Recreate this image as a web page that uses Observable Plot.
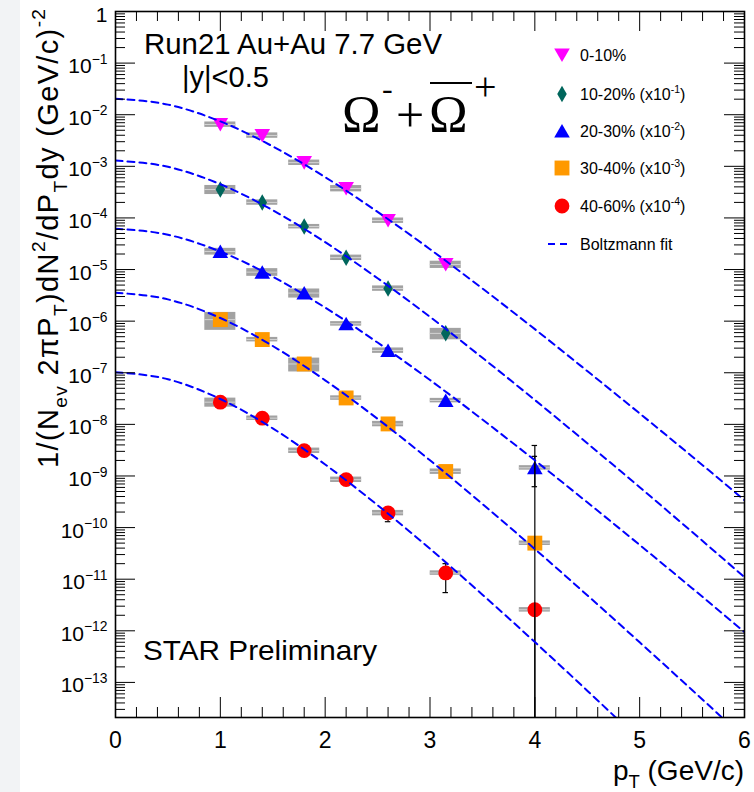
<!DOCTYPE html>
<html><head><meta charset="utf-8">
<script src="https://cdn.jsdelivr.net/npm/d3@7"></script>
<script src="https://cdn.jsdelivr.net/npm/@observablehq/plot@0.6"></script>
<style>
body{margin:0;background:#fff;}
#chart svg{display:block;}
</style>
</head><body><div id="chart"></div>
<script>
// ---- data ----
const pt = [1.0, 1.4, 1.8, 2.2, 2.6, 3.15, 4.0];
const seriesNames = ["0-10%", "10-20% (x10^{-1})", "20-30% (x10^{-2})", "30-40% (x10^{-3})", "40-60% (x10^{-4})"];
const seriesColors = ["#ff00ff", "#00665c", "#0000ff", "#ff9900", "#ff0000"];
const seriesSymbols = ["triangle", "diamond", "triangle", "square", "circle"];
const cent0_10  = [6.46e-3, 3.97e-3, 1.18e-3, 3.72e-4, 8.9e-5, 1.25e-5];
const cent10_20 = [3.55e-4, 2.0e-4, 6.8e-5, 1.7e-5, 4.3e-6, 5.8e-7];
const cent20_30 = [2.24e-5, 8.9e-6, 3.5e-6, 8.9e-7, 2.7e-7, 2.9e-8, 1.44e-9];
const cent30_40 = [1.07e-6, 4.4e-7, 1.48e-7, 3.25e-8, 1.02e-8, 1.22e-9, 5.0e-11];
const cent40_60 = [2.69e-8, 1.32e-8, 3.1e-9, 8.5e-10, 1.92e-10, 1.32e-11, 2.56e-12];
// systematic (relative) errors -> grey boxes
const sys0_10  = [0.12, 0.12, 0.12, 0.14, 0.12, 0.16];
const sys10_20 = [0.20, 0.12, 0.10, 0.12, 0.12, 0.25];
const sys20_30 = [0.15, 0.17, 0.20, 0.10, 0.12, 0.10, 0.10];
const sys30_40 = [0.38, 0.10, 0.30, 0.10, 0.12, 0.12, 0.10];
const sys40_60 = [0.20, 0.10, 0.12, 0.12, 0.12, 0.10, 0.10];
// visible error bars (the first two are drawn over the markers)
const errPt = [4.0, 4.0, 3.15, 2.6, 4.0];
const errLo = [1e-16, 6.2e-10, 5.5e-12, 1.3e-10, 1e-16];
const errHi = [3.9e-9, 2.4e-9, 2.0e-11, 2.4e-10, 3.0e-12];
const errOnTop = [true, true, false, false, false];
// Boltzmann fit curves
const fitPt = [0, 0.5, 1, 1.5, 2, 2.5, 3, 3.5, 4, 4.5, 5, 5.5, 6];
const fit0_10  = [2.04e-2, 1.57e-2, 7.43e-3, 2.43e-3, 6.17e-4, 1.31e-4, 2.48e-5, 4.29e-6, 7.0e-7, 1.08e-7, 1.63e-8, 2.39e-9, 3.40e-10];
const fit10_20 = [1.29e-3, 9.77e-4, 4.50e-4, 1.41e-4, 3.39e-5, 6.78e-6, 1.21e-6, 1.95e-7, 2.97e-8, 4.31e-9, 6.04e-10, 8.24e-11, 1.09e-11];
const fit20_30 = [6.17e-5, 4.72e-5, 2.23e-5, 7.28e-6, 1.83e-6, 3.85e-7, 7.24e-8, 1.24e-8, 2.01e-9, 3.09e-10, 4.61e-11, 6.70e-12, 9.46e-13];
const fit30_40 = [3.55e-6, 2.64e-6, 1.15e-6, 3.30e-7, 7.14e-8, 1.28e-8, 2.01e-9, 2.87e-10, 3.85e-11, 4.88e-12, 5.98e-13, 7.13e-14, 8.24e-15];
const fit40_60 = [1.02e-7, 7.48e-8, 3.10e-8, 8.36e-9, 1.67e-9, 2.72e-10, 3.89e-11, 5.01e-12, 6.05e-13, 6.92e-14, 7.62e-15];
const xTickLabels = ["0", "1", "2", "3", "4", "5", "6"];
const yTickExponents = [0, -1, -2, -3, -4, -5, -6, -7, -8, -9, -10, -11, -12, -13];

// ---- build tables ----
const cents = [cent0_10, cent10_20, cent20_30, cent30_40, cent40_60];
const syss = [sys0_10, sys10_20, sys20_30, sys30_40, sys40_60];
const fits = [fit0_10, fit10_20, fit20_30, fit30_40, fit40_60];
const points = cents.flatMap((arr, s) => arr.map((v, j) => ({s, pt: pt[j], v, sys: syss[s][j]})));
const fitRows = fits.flatMap((arr, s) => arr.map((v, j) => ({s, pt: fitPt[j], v})));
const errRows = errPt.map((p, i) => ({pt: p, lo: errLo[i], hi: errHi[i], top: errOnTop[i]}));
const capRows = errRows.flatMap(e => [{pt: e.pt, v: e.lo, top: e.top}, {pt: e.pt, v: e.hi, top: e.top}]);

const W = 754, H = 792, mL = 115, mR = 10, mT = 11, mB = 75;
const iW = W - mL - mR, iH = H - mT - mB;
const yMin = 2.09e-14;
const xMajor = xTickLabels.map(Number);
const xMinor = d3.range(0, 6.001, 0.2).filter(v => Math.abs(v - Math.round(v)) > 1e-6);
const yMajor = yTickExponents.map(e => Math.pow(10, e));
const yMinor = [];
for (let e = 0; e >= -14; e--) for (let k = 2; k <= 9; k++) { const v = k * Math.pow(10, e - 1); if (v >= yMin && v <= 1) yMinor.push(v); }

const BW = 0.148; // half width of grey boxes (pT units)
const markerR = [5.8, 5.0, 5.8, 8.4, 7.4];
const markerRot = [180, 0, 0, 0, 0];
const markerDy = [-2, 0, 2, 0, 0];

const dotMarks = cents.map((arr, s) => Plot.dot(points.filter(d => d.s === s), {
  x: "pt", y: "v", symbol: seriesSymbols[s], r: markerR[s], fill: seriesColors[s], stroke: "none",
  rotate: markerRot[s], dy: markerDy[s]
}));
const errMarks = (top) => [
  Plot.ruleX(errRows.filter(d => d.top === top), {x: "pt", y1: "lo", y2: "hi", stroke: "#000", strokeWidth: 1.2, clip: true}),
  Plot.ruleY(capRows.filter(d => d.top === top), {y: "v", x1: d => d.pt - 0.026, x2: d => d.pt + 0.026, stroke: "#000", strokeWidth: 1.2, clip: true})
];

const chart = Plot.plot({
  width: W, height: H, marginLeft: mL, marginRight: mR, marginTop: mT, marginBottom: mB,
  style: {background: "transparent", fontFamily: "'Liberation Sans', Arial, sans-serif"},
  x: {domain: [0, 6], axis: null},
  y: {type: "log", domain: [yMin, 1], axis: null},
  marks: [
    Plot.rect(points, {x1: d => d.pt - BW, x2: d => d.pt + BW, y1: d => d.v * (1 - d.sys), y2: d => d.v * (1 + d.sys), fill: "#a2a2a2"}),
    Plot.ruleY(points, {y: "v", x1: d => d.pt - BW, x2: d => d.pt + BW, stroke: "#d4d4d4", strokeWidth: 1}),
    ...errMarks(false),
    ...dotMarks,
    ...errMarks(true),
    Plot.line(fitRows, {x: "pt", y: "v", z: "s", stroke: "#0000ff", strokeWidth: 2, strokeDasharray: "7,5", curve: "monotone-x", clip: true}),
    // ticks (inside frame, ROOT style)
    Plot.tickX(xMinor, {x: d => d, insetTop: iH - 10, stroke: "#000"}),
    Plot.tickX(xMajor, {x: d => d, insetTop: iH - 20, stroke: "#000"}),
    Plot.tickX(xMinor, {x: d => d, insetBottom: iH - 10, stroke: "#000"}),
    Plot.tickX(xMajor, {x: d => d, insetBottom: iH - 20, stroke: "#000"}),
    Plot.tickY(yMinor, {y: d => d, insetRight: iW - 10, stroke: "#000"}),
    Plot.tickY(yMajor, {y: d => d, insetRight: iW - 20, stroke: "#000"}),
    Plot.tickY(yMinor, {y: d => d, insetLeft: iW - 10, stroke: "#000"}),
    Plot.tickY(yMajor, {y: d => d, insetLeft: iW - 20, stroke: "#000"}),
    Plot.frame({stroke: "#000", strokeWidth: 1.6}),
    // tick labels
    Plot.text(xMajor, {x: d => d, frameAnchor: "bottom", dy: 30, lineAnchor: "bottom", text: (d, i) => xTickLabels[i], fontSize: 23, fill: "#000"}),
    Plot.text(yMajor, {y: d => d, frameAnchor: "left", dx: -8, dy: 10, lineAnchor: "bottom", textAnchor: "end", fontSize: 21, fill: "#000",
      text: (d, i) => yTickExponents[i] === 0 ? "1" : "10^{\u2212" + (-yTickExponents[i]) + "}"})
  ]
});
document.getElementById("chart").appendChild(chart);

// ---- annotations, legend, titles ----
const svg = d3.select(chart);
const ns = "http://www.w3.org/2000/svg";
svg.insert("rect", ":first-child").attr("x", 0).attr("y", 0).attr("width", 20).attr("height", H).attr("fill", "#f2f3f5");

function rich(el, supScale = 0.66) {
  const s = el.textContent;
  if (!/[\^_]\{/.test(s)) return;
  const fs = parseFloat(getComputedStyle(el).fontSize);
  while (el.firstChild) el.removeChild(el.firstChild);
  const re = /([\^_])\{([^}]*)\}|([^\^_]+)/g;
  let shift = 0, m;
  while ((m = re.exec(s))) {
    const t = document.createElementNS(ns, "tspan");
    let target = 0;
    if (m[1]) { t.setAttribute("font-size", fs * supScale); target = m[1] === "^" ? -0.45 * fs : 0.3 * fs; t.textContent = m[2]; }
    else t.textContent = m[3];
    t.setAttribute("dy", target - shift); shift = target;
    el.appendChild(t);
  }
}
// superscripts in the y tick labels
svg.selectAll("text").each(function() { rich(this); });

const g = svg.append("g").attr("font-family", "'Liberation Sans', Arial, sans-serif").attr("fill", "#000").attr("text-anchor", "start");
function txt(x, y, s, size, opts = {}) {
  const t = g.append("text").attr("x", x).attr("y", y).attr("font-size", size).text(s);
  for (const k in opts) t.attr(k, opts[k]);
  rich(t.node());
  return t;
}
txt(144, 54, "Run21 Au+Au 7.7 GeV", 29, {textLength: 298, lengthAdjust: "spacingAndGlyphs"});
txt(182, 87, "|y|<0.5", 29);
txt(143, 660, "STAR Preliminary", 28, {textLength: 234, lengthAdjust: "spacingAndGlyphs"});

// Omega label
const serif = "'Liberation Serif', 'DejaVu Serif', serif";
txt(342, 132, "\u03A9", 52, {"font-family": serif});
txt(382, 99, "-", 32, {"font-family": serif});
txt(396, 132, "+", 50, {"font-family": serif});
txt(429, 132, "\u03A9", 52, {"font-family": serif});
g.append("line").attr("x1", 430).attr("x2", 472).attr("y1", 83).attr("y2", 83).attr("stroke", "#000").attr("stroke-width", 2);
txt(474, 100, "+", 40, {"font-family": serif});

// legend
const legY = [55, 94, 131, 168, 206];
const legX = 562;
seriesNames.forEach((name, s) => {
  const size = Math.PI * markerR[s] * markerR[s];
  const sym = {triangle: d3.symbolTriangle, diamond: d3.symbolDiamond, square: d3.symbolSquare, circle: d3.symbolCircle}[seriesSymbols[s]];
  g.append("path").attr("d", d3.symbol(sym, size)())
    .attr("transform", `translate(${legX},${legY[s] + markerDy[s]}) rotate(${markerRot[s]})`)
    .attr("fill", seriesColors[s]);
  txt(580, legY[s] + 6, name, 16);
});
g.append("line").attr("x1", 548).attr("x2", 570).attr("y1", 244).attr("y2", 244).attr("stroke", "#0000ff").attr("stroke-width", 2).attr("stroke-dasharray", "7,5");
txt(580, 250, "Boltzmann fit", 16);

// axis titles
txt(744, 780, "p_{T} (GeV/c)", 28, {"text-anchor": "end"});
const yt = g.append("text").attr("transform", "translate(58,9) rotate(-90)").attr("text-anchor", "end").attr("font-size", 29)
  .text("1/(N_{ev} 2\u03C0P_{T})dN^{2}/dP_{T}dy (GeV/c)^{-2}");
rich(yt.node());
yt.attr("textLength", 459).attr("lengthAdjust", "spacing");
</script>
</body></html>
